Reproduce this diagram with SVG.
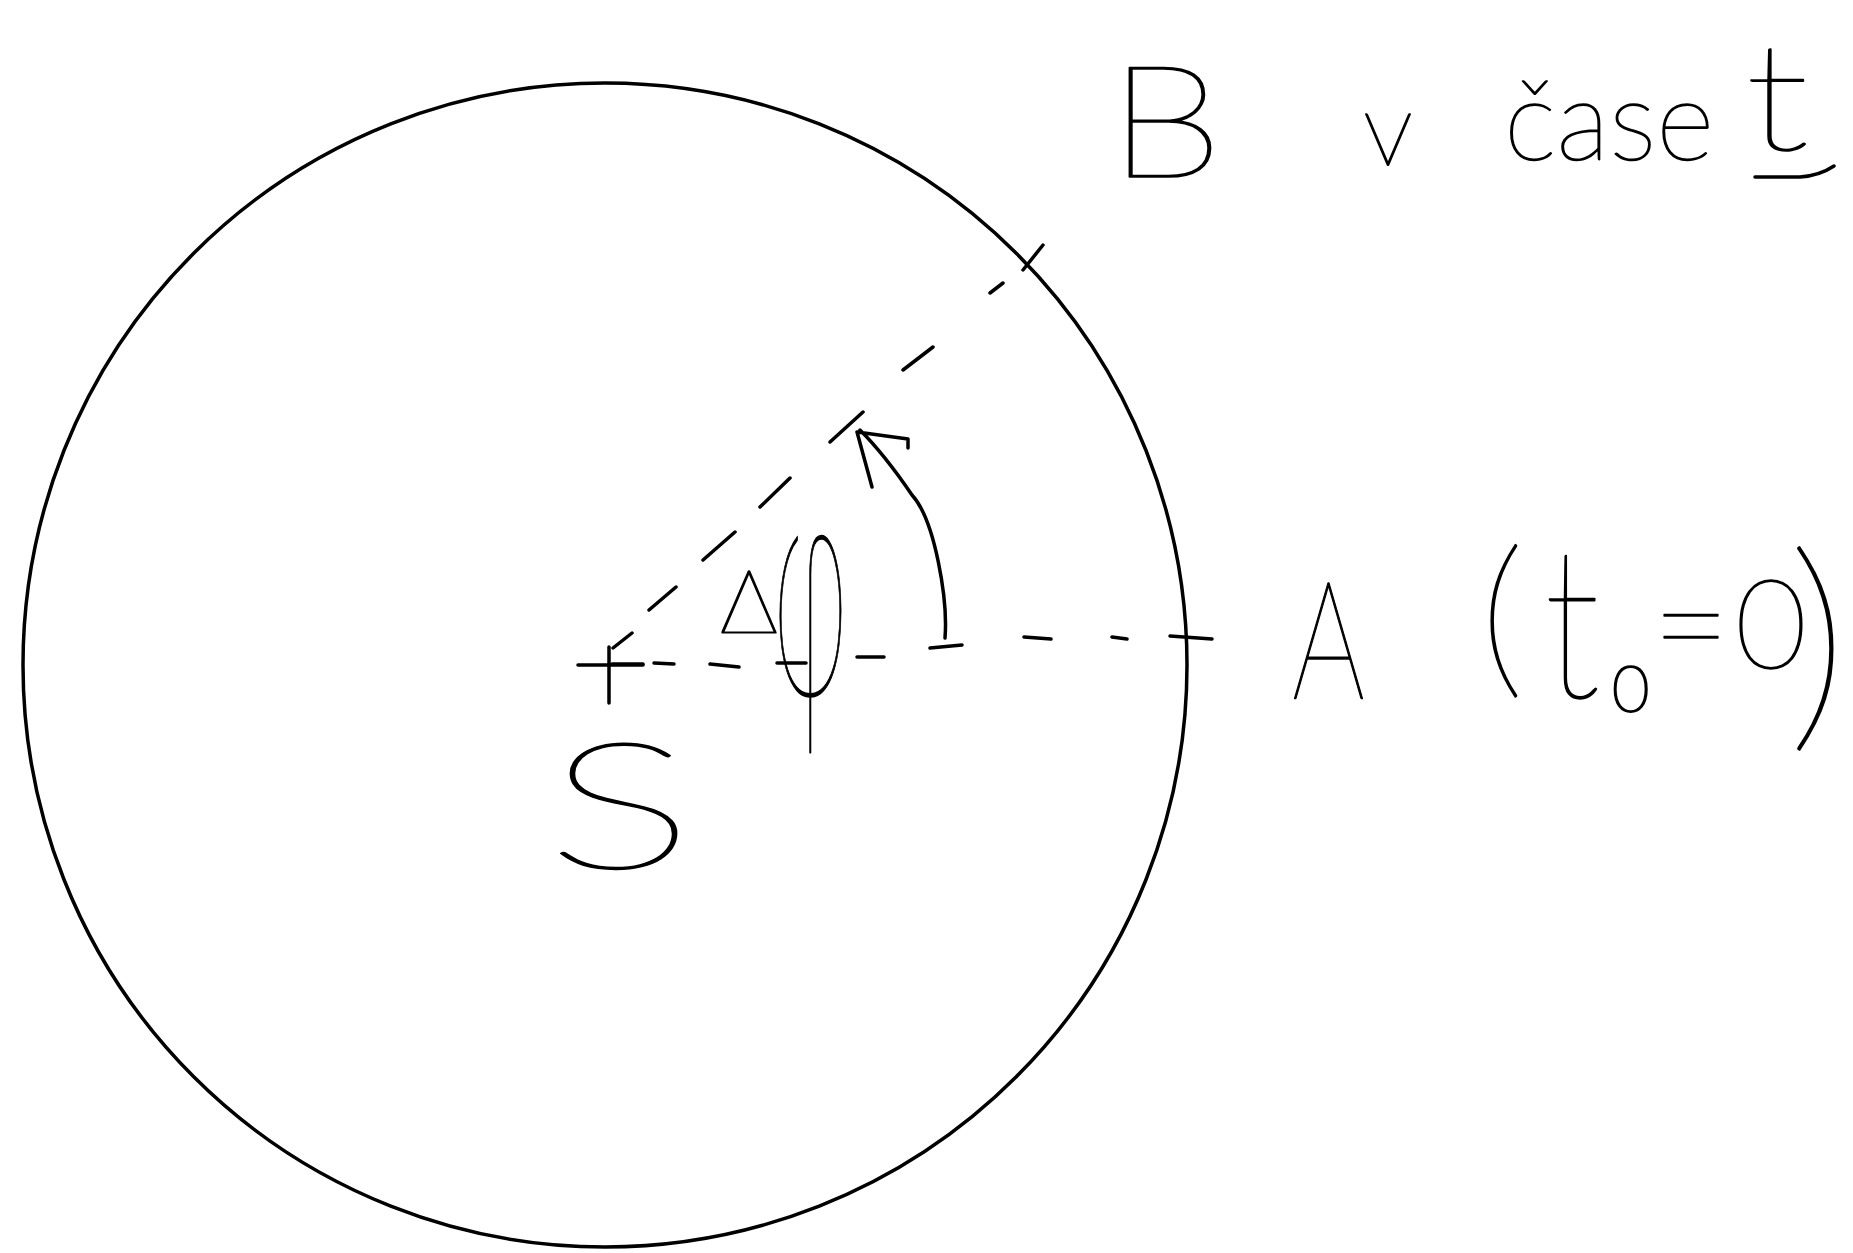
<svg xmlns="http://www.w3.org/2000/svg" width="1853" height="1253" viewBox="0 0 1853 1253">
<style>
.ln{fill:none;stroke:#000;stroke-width:3.5;stroke-linecap:round;stroke-linejoin:round}
.hw{font-family:Lato,"DejaVu Sans",sans-serif;font-weight:200;fill:#000;stroke:#000;stroke-width:1.6;stroke-linejoin:round}
</style>
<rect width="1853" height="1253" fill="#fff"/>
<g id="circle">
<circle class="ln" cx="605" cy="665" r="582" stroke-width="3"/>
</g>
<g id="connectors">
<path id="radius-SA" class="ln" d="M612,664 L643,664 M654,663 L674,664 M710,664 L739,667 M777,663 L806,663 M857,657 L884,657 M930,648 L962,645 M1024,637 L1051,639 M1112,637 L1127,639 M1170,636 L1212,639"/>
<path id="radius-SB" class="ln" d="M613,648 L632,633 M649,610 L676,587 M703,560 L735,532 M760,507 L790,478 M830,442 L863,412 M903,370 L933,347 M990,293 L1003,283"/>
<path id="angle-arrow" class="ln" d="M945,638 C948,600 935,520 912,495 C895,470 880,450 860,430 M872,487 L857,432 L908,439 L908,448"/>
</g>
<g id="node-S">
<path class="ln" d="M578,665 L643,665 M609,647 L609,703"/>
<text class="hw" x="546" y="868" font-size="176" textLength="148" lengthAdjust="spacingAndGlyphs">S</text>
</g>
<g id="node-A">
<text class="hw" x="1292" y="698" font-size="165" textLength="73" lengthAdjust="spacingAndGlyphs">A</text>
<text class="hw" y="676"><tspan x="1480" font-size="175">(</tspan><tspan x="1544" y="697" font-size="210" textLength="56" lengthAdjust="spacingAndGlyphs">t</tspan><tspan x="1609" y="697" font-size="130">₀</tspan><tspan x="1652" y="677" font-size="150" textLength="78" lengthAdjust="spacingAndGlyphs">=</tspan><tspan x="1735" y="668" font-size="124">0</tspan><tspan x="1788" y="722" font-size="232" textLength="60" lengthAdjust="spacingAndGlyphs">)</tspan></text>
</g>
<g id="node-B">
<path class="ln" d="M1043,245 L1023,270"/>
<text class="hw" x="1108" y="177" font-size="156" textLength="115" lengthAdjust="spacingAndGlyphs">B</text>
<text class="hw" x="1363" y="165" font-size="105" textLength="50" lengthAdjust="spacingAndGlyphs">v</text>
<text class="hw" x="1504" y="160" font-size="112" textLength="210" lengthAdjust="spacingAndGlyphs">čase</text>
<text class="hw" x="1745" y="150" font-size="150" textLength="64" lengthAdjust="spacingAndGlyphs">t</text>
<path class="ln" d="M1755,177 L1800,177 C1815,176 1825,172 1834,166"/>
</g>
<g id="angle-label">
<text class="hw" x="720" y="633" font-size="88" textLength="58" lengthAdjust="spacingAndGlyphs">Δ</text>
<text class="hw" x="773" y="695" font-size="320" textLength="75" lengthAdjust="spacingAndGlyphs">φ</text>
</g>
</svg>
